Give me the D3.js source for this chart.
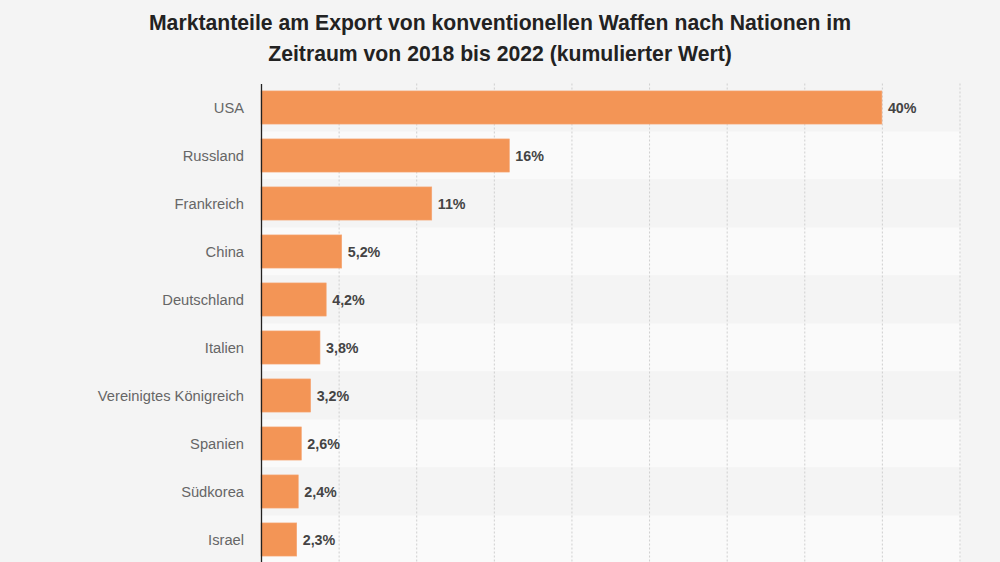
<!DOCTYPE html>
<html><head><meta charset="utf-8">
<script src="https://cdn.jsdelivr.net/npm/d3@7"></script>
<style>
html,body{margin:0;padding:0;background:#f4f4f4;}
svg{display:block;font-family:"Liberation Sans",Arial,sans-serif;}
</style></head>
<body>
<svg id="chart" width="1000" height="562"></svg>
<script>
const categories = ["USA","Russland","Frankreich","China","Deutschland","Italien","Vereinigtes Königreich","Spanien","Südkorea","Israel"];
const values = [40,16,11,5.2,4.2,3.8,3.2,2.6,2.4,2.3];
const valueLabels = ["40%","16%","11%","5,2%","4,2%","3,8%","3,2%","2,6%","2,4%","2,3%"];
const xTicks = [0,5,10,15,20,25,30,35,40,45];
const titleLines = ["Marktanteile am Export von konventionellen Waffen nach Nationen im","Zeitraum von 2018 bis 2022 (kumulierter Wert)"];

(function(){
const svg = d3.select("#chart");
const W = 1000, H = 562;
const mLeft = 261, mRight = 959.5, mTop = 83.5, mBottom = 563.5;

const x = d3.scaleLinear().domain([0,45]).range([mLeft,mRight]);
const y = d3.scaleBand().domain(categories).range([mTop,mBottom]).paddingInner(0.31).paddingOuter(0.155);
const band = d3.scaleBand().domain(categories).range([mTop,mBottom]);

svg.append("rect").attr("width",W).attr("height",H).attr("fill","#f4f4f4");

// row bands
svg.append("g").selectAll("rect").data(categories).join("rect")
  .attr("x",mLeft).attr("width",mRight-mLeft+1)
  .attr("y",d=>band(d)).attr("height",band.bandwidth())
  .attr("fill",(d,i)=> i%2 ? "#fafafa" : "#f4f4f4");

// grid
const grid = svg.append("g").attr("transform",`translate(0,${mTop})`)
  .call(d3.axisBottom(x).tickValues(xTicks.slice(1)).tickSize(mBottom-mTop).tickFormat(""));
grid.select(".domain").remove();
grid.selectAll("line").attr("stroke","#cfcfcf").attr("stroke-dasharray","2,2").attr("stroke-width",1);

// bars
svg.append("g").selectAll("rect").data(values).join("rect")
  .attr("x",x(0)).attr("y",(d,i)=>y(categories[i]))
  .attr("width",d=>x(d)-x(0)).attr("height",y.bandwidth())
  .attr("fill","#f39556").attr("stroke","#f5a675").attr("stroke-width",0.6);

// value labels
svg.append("g").selectAll("text").data(values).join("text")
  .attr("x",d=>x(d)+6).attr("y",(d,i)=>y(categories[i])+y.bandwidth()/2)
  .attr("dy","0.38em").attr("font-size",14.3).attr("font-weight","bold").attr("fill","#444")
  .text((d,i)=>valueLabels[i]);

// y axis
const yAxis = svg.append("g").attr("transform",`translate(${mLeft},0)`)
  .call(d3.axisLeft(band).tickSize(0).tickPadding(17));
yAxis.select(".domain").attr("stroke","#222").attr("stroke-width",1.3);
yAxis.selectAll("text").attr("font-size",14.7).attr("fill","#666").attr("dy","0.36em")
  .attr("font-family","'Liberation Sans',Arial,sans-serif");

// title
svg.append("g").selectAll("text").data(titleLines).join("text")
  .attr("x",500).attr("y",(d,i)=>29.5+i*31.5).attr("text-anchor","middle")
  .attr("font-size",21.2).attr("font-weight","bold").attr("fill","#222")
  .text(d=>d);
})();
</script>
</body></html>
